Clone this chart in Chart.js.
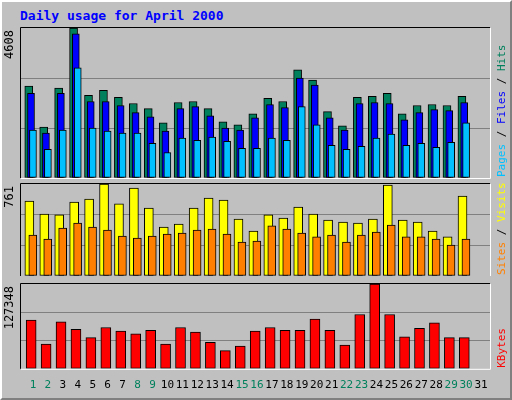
<!DOCTYPE html>
<html>
<head>
<meta charset="utf-8">
<script src="https://cdn.jsdelivr.net/npm/chart.js@4"></script>
<style>
  body { margin: 0; background: #c0c0c0; }
  #frame { position: relative; width: 508px; height: 396px; background: #c0c0c0;
    border-left: 2px solid #fff; border-top: 2px solid #fff;
    border-right: 2px solid #808080; border-bottom: 2px solid #808080; }
  #title { position: absolute; left: 18px; top: 6px; font: bold 13px "DejaVu Sans Mono", monospace; color: #0000ff; }
  canvas { position: absolute; left: -2px; }
</style>
</head>
<body>
<div id="frame">
  <div id="title">Daily usage for April 2000</div>
  <canvas id="c1" width="512" height="160" style="top:18px"></canvas>
  <canvas id="c2" width="512" height="100" style="top:174px"></canvas>
  <canvas id="c3" width="512" height="124" style="top:274px"></canvas>
</div>
<script>
const days = [1,2,3,4,5,6,7,8,9,10,11,12,13,14,15,16,17,18,19,20,21,22,23,24,25,26,27,28,29,30];
const dayLabels = [1,2,3,4,5,6,7,8,9,10,11,12,13,14,15,16,17,18,19,20,21,22,23,24,25,26,27,28,29,30,31];
const weekendDays = [1,2,8,9,15,16,22,23,29,30];

const hits = [2821,1567,2759,4608,2539,2696,2476,2288,2132,1693,2320,2351,2132,1724,1630,1975,2445,2351,3323,3009,2038,1599,2476,2508,2602,1975,2226,2257,2226,2508];
const files = [2602,1379,2602,4430,2351,2351,2226,2006,1881,1442,2132,2194,1912,1536,1473,1849,2257,2163,3072,2853,1849,1473,2288,2320,2288,1787,2006,2100,2069,2320];
const pages = [1473,878,1473,3385,1536,1442,1379,1379,1066,784,1223,1160,1254,1128,909,909,1223,1160,2194,1630,1003,878,972,1223,1348,1003,1066,940,1097,1693];
const visits = [620,513,505,612,637,761,596,728,562,405,430,562,645,629,471,372,505,480,571,513,463,447,438,471,753,463,447,372,323,662];
const sites = [339,306,397,438,405,380,331,314,331,347,356,380,389,347,281,289,414,389,356,323,339,281,339,364,422,323,323,306,256,306];
const kbytes = [73185,37078,70408,59298,46800,62075,56520,52354,57909,37078,62075,55131,39856,27357,34301,56520,62075,57909,57909,74574,57909,35690,81517,127348,81517,48188,60686,69019,46800,46800];

const mono = '"DejaVu Sans Mono", monospace';

// frame lines, max label on the left, coloured legend text on the right
const panelDeco = {
  id: 'panelDeco',
  afterDraw(chart, args, opts) {
    const { ctx, chartArea: a } = chart;
    ctx.save();
    ctx.lineWidth = 1;
    ctx.strokeStyle = '#000';
    ctx.beginPath();
    ctx.moveTo(a.left - 0.5, a.bottom); ctx.lineTo(a.left - 0.5, a.top - 0.5); ctx.lineTo(a.right, a.top - 0.5);
    ctx.stroke();
    ctx.strokeStyle = '#fff';
    ctx.beginPath();
    ctx.moveTo(a.right + 0.5, a.top); ctx.lineTo(a.right + 0.5, a.bottom + 0.5); ctx.lineTo(a.left, a.bottom + 0.5);
    ctx.stroke();

    ctx.font = '12px ' + mono;
    ctx.fillStyle = '#000';
    ctx.translate(19, a.top + 2);
    ctx.rotate(-Math.PI / 2);
    ctx.textAlign = 'right';
    ctx.textBaseline = 'bottom';
    ctx.fillText(opts.max, 0, -3);
    ctx.restore();

    ctx.save();
    ctx.font = '11px ' + mono;
    ctx.translate(a.right + 12, a.top + 1);
    ctx.rotate(-Math.PI / 2);
    ctx.textBaseline = 'middle';
    let x = -(a.bottom - a.top) + 2;
    opts.parts.forEach(p => {
      ctx.fillStyle = p.color;
      ctx.fillText(p.text, x, 0);
      x += ctx.measureText(p.text).width;
    });
    ctx.restore();
  }
};

function pts(vals, off) {
  return days.map((d, i) => ({ x: d + off, y: vals[i] }));
}

function makeChart(id, datasets, max, parts, showDays, padding) {
  return new Chart(document.getElementById(id), {
    type: 'bar',
    data: { datasets },
    plugins: [panelDeco],
    options: {
      responsive: false,
      animation: false,
      layout: { padding },
      plugins: { legend: { display: false }, tooltip: { enabled: false },
        panelDeco: { max: String(max), parts } },
      scales: {
        x: {
          type: 'linear', min: 0.2, max: 31.6, offset: false,
          display: showDays,
          border: { display: false },
          grid: { display: false },
          afterBuildTicks: s => { s.ticks = dayLabels.map(v => ({ value: v })); },
          ticks: {
            autoSkip: false, maxRotation: 0, padding: 2,
            font: { family: mono, size: 11 },
            color: c => weekendDays.includes(c.tick.value) ? '#00805c' : '#000',
            callback: v => v
          }
        },
        y: {
          min: 0, max,
          border: { display: false },
          grid: { color: c => (c.tick.value > 0 && c.tick.value < max) ? '#808080' : 'rgba(0,0,0,0)', drawTicks: false, lineWidth: 1 },
          afterBuildTicks: s => { s.ticks = [0, max / 3, 2 * max / 3, max].map(v => ({ value: v })); },
          ticks: { display: false }
        }
      }
    }
  });
}

const bar = (label, data, color, w, order) => ({
  label, data, backgroundColor: color, borderColor: '#000', borderWidth: 1,
  barThickness: w, order, grouped: false, borderSkipped: false
});

makeChart('c1', [
  bar('Pages', pts(pages, 0.0), '#00c0ff', 7, 0),
  bar('Files', pts(files, -0.13), '#0000ff', 7, 1),
  bar('Hits', pts(hits, -0.28), '#00805c', 8, 2)
], 4608, [
  { text: 'Pages', color: '#00c0ff' }, { text: ' / ', color: '#000' },
  { text: 'Files', color: '#0000ff' }, { text: ' / ', color: '#000' },
  { text: 'Hits', color: '#00805c' }
], false, { left: 21, right: 22, top: 8, bottom: 2 });

makeChart('c2', [
  bar('Sites', pts(sites, -0.01), '#ff8000', 8, 0),
  bar('Visits', pts(visits, -0.24), '#ffff00', 9, 1)
], 761, [
  { text: 'Sites', color: '#ff8000' }, { text: ' / ', color: '#000' },
  { text: 'Visits', color: '#ffff00' }
], false, { left: 21, right: 22, top: 8, bottom: 0 });

makeChart('c3', [
  bar('KBytes', pts(kbytes, -0.12), '#ff0000', 10, 0)
], 127348, [
  { text: 'KBytes', color: '#ff0000' }
], true, { left: 21, right: 22, top: 8, bottom: 6 });
</script>
</body>
</html>
